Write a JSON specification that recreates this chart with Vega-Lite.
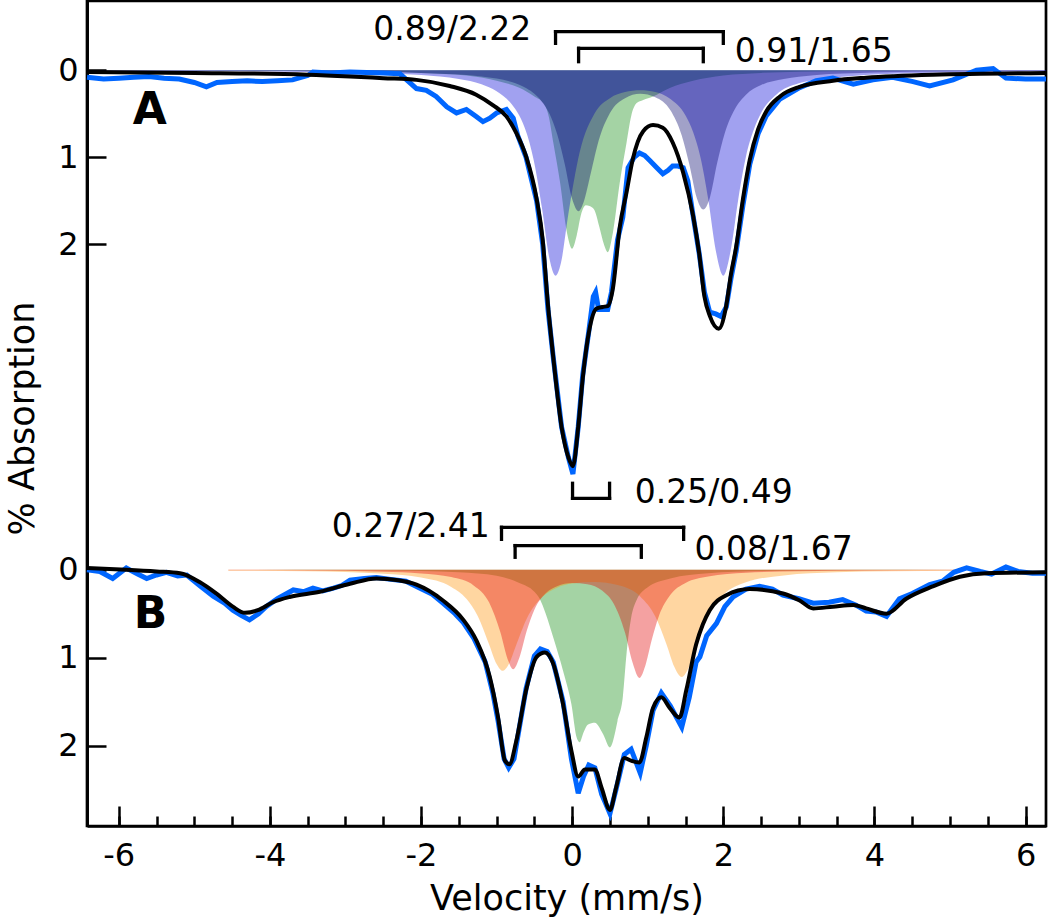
{
  "$schema": "https://vega.github.io/schema/vega-lite/v6.json",
  "width": 959,
  "height": 825,
  "autosize": {"type": "none"},
  "padding": {"left": 87, "top": 1, "right": 4, "bottom": 93},
  "config": {
    "view": {"stroke": "black", "strokeWidth": 2.7},
    "font": "DejaVu Sans",
    "axis": {"grid": false, "domainColor": "black", "tickColor": "black", "labelColor": "black", "titleColor": "black"}
  },
  "resolve": {"scale": {"y": "independent"}, "axis": {"x": "independent", "y": "independent"}},
  "layer": [
    {
      "encoding": {
        "x": {"field": "x", "type": "quantitative", "scale": {"domain": [-6.42, 6.27], "nice": false, "zero": false}, "axis": null},
        "y": {"field": "y", "type": "quantitative", "scale": {"domain": [-0.7966, 8.686], "reverse": true, "nice": false, "zero": false},
          "axis": {"orient": "left", "values": [0, 1, 2], "tickSize": -19, "tickWidth": 2.5, "domainWidth": 2.7, "labelFontSize": 32, "labelPadding": 28, "labelFont": "DejaVu Sans",
            "title": "% Absorption", "titleFontSize": 35, "titleFontWeight": "normal", "titleFont": "DejaVu Sans", "titleX": -65, "titleY": 417, "titleAngle": -90, "titleAlign": "center", "titleBaseline": "middle"}}
      },
      "layer": [
        {
          "data": {"values": [
            {"x":-6.42,"y":0},{"x":-3,"y":0.01},{"x":-2,"y":0.03},{"x":-1.4,"y":0.06},{"x":-1,"y":0.12},{"x":-0.7,"y":0.2},{"x":-0.5,"y":0.3},{"x":-0.38,"y":0.38},{"x":-0.31,"y":0.53},{"x":-0.25,"y":0.83},{"x":-0.16,"y":1.29},{"x":-0.07,"y":1.86},{"x":0,"y":2.05},{"x":0.06,"y":1.9},{"x":0.12,"y":1.65},{"x":0.18,"y":1.55},{"x":0.23,"y":1.56},{"x":0.29,"y":1.6},{"x":0.36,"y":1.8},{"x":0.42,"y":2.0},{"x":0.47,"y":2.09},{"x":0.54,"y":1.86},{"x":0.63,"y":1.29},{"x":0.72,"y":0.83},{"x":0.78,"y":0.53},{"x":0.85,"y":0.38},{"x":0.94,"y":0.34},{"x":1.07,"y":0.3},{"x":1.3,"y":0.2},{"x":1.6,"y":0.12},{"x":2,"y":0.06},{"x":2.5,"y":0.03},{"x":3.5,"y":0.01},{"x":6.27,"y":0}
          ]},
          "mark": {"type": "area", "color": "#088808", "opacity": 0.37, "interpolate": "monotone"},
          "encoding": {"y2": {"datum": 0}}
        },
        {
          "data": {"values": [
            {"x":-6.42,"y":0.006},{"x":-5,"y":0.01},{"x":-4,"y":0.014},{"x":-3,"y":0.025},{"x":-2.5,"y":0.035},{"x":-2,"y":0.055},{"x":-1.5,"y":0.1},{"x":-1.2,"y":0.16},{"x":-1,"y":0.24},{"x":-0.8,"y":0.39},{"x":-0.7,"y":0.52},{"x":-0.6,"y":0.73},{"x":-0.5,"y":1.07},{"x":-0.4,"y":1.58},{"x":-0.3,"y":2.17},{"x":-0.22,"y":2.36},{"x":-0.15,"y":2.22},{"x":-0.05,"y":1.65},{"x":0.1,"y":0.94},{"x":0.3,"y":0.49},{"x":0.5,"y":0.32},{"x":0.7,"y":0.25},{"x":0.9,"y":0.23},{"x":1.1,"y":0.25},{"x":1.3,"y":0.33},{"x":1.5,"y":0.52},{"x":1.6,"y":0.71},{"x":1.7,"y":1.01},{"x":1.8,"y":1.48},{"x":1.9,"y":2.07},{"x":2,"y":2.36},{"x":2.1,"y":2.06},{"x":2.2,"y":1.47},{"x":2.3,"y":0.99},{"x":2.4,"y":0.69},{"x":2.5,"y":0.49},{"x":2.7,"y":0.28},{"x":3,"y":0.15},{"x":3.5,"y":0.08},{"x":4,"y":0.047},{"x":5,"y":0.024},{"x":6.27,"y":0.014}
          ]},
          "mark": {"type": "area", "color": "#0000d6", "opacity": 0.37, "interpolate": "monotone"},
          "encoding": {"y2": {"datum": 0}}
        },
        {
          "data": {"values": [
            {"x":-6.42,"y":0.004},{"x":-4,"y":0.009},{"x":-3,"y":0.015},{"x":-2,"y":0.03},{"x":-1.5,"y":0.049},{"x":-1.2,"y":0.07},{"x":-1,"y":0.095},{"x":-0.8,"y":0.135},{"x":-0.6,"y":0.21},{"x":-0.5,"y":0.27},{"x":-0.4,"y":0.36},{"x":-0.3,"y":0.5},{"x":-0.2,"y":0.73},{"x":-0.1,"y":1.07},{"x":0,"y":1.48},{"x":0.085,"y":1.62},{"x":0.15,"y":1.52},{"x":0.25,"y":1.17},{"x":0.35,"y":0.81},{"x":0.5,"y":0.49},{"x":0.7,"y":0.32},{"x":0.9,"y":0.27},{"x":1.1,"y":0.31},{"x":1.3,"y":0.46},{"x":1.45,"y":0.75},{"x":1.55,"y":1.08},{"x":1.65,"y":1.47},{"x":1.735,"y":1.6},{"x":1.82,"y":1.47},{"x":1.92,"y":1.06},{"x":2.02,"y":0.72},{"x":2.15,"y":0.45},{"x":2.3,"y":0.28},{"x":2.5,"y":0.17},{"x":2.8,"y":0.1},{"x":3.2,"y":0.056},{"x":4,"y":0.025},{"x":5,"y":0.013},{"x":6.27,"y":0.008}
          ]},
          "mark": {"type": "area", "color": "#00006a", "opacity": 0.37, "interpolate": "monotone"},
          "encoding": {"y2": {"datum": 0}}
        },
        {
          "data": {"values": [
            {"x":-6.42,"y":0.08},{"x":-6.2,"y":0.1},{"x":-6,"y":0.09},{"x":-5.8,"y":0.08},{"x":-5.6,"y":0.07},{"x":-5.4,"y":0.09},{"x":-5.2,"y":0.1},{"x":-5,"y":0.14},{"x":-4.84,"y":0.19},{"x":-4.7,"y":0.14},{"x":-4.5,"y":0.13},{"x":-4.3,"y":0.12},{"x":-4.1,"y":0.13},{"x":-3.9,"y":0.12},{"x":-3.7,"y":0.11},{"x":-3.5,"y":0.06},{"x":-3.43,"y":0.02},{"x":-3.2,"y":0.03},{"x":-2.94,"y":0.02},{"x":-2.5,"y":0.03},{"x":-2.28,"y":0.04},{"x":-2.19,"y":0.11},{"x":-2.06,"y":0.21},{"x":-1.93,"y":0.23},{"x":-1.8,"y":0.3},{"x":-1.66,"y":0.42},{"x":-1.53,"y":0.49},{"x":-1.4,"y":0.45},{"x":-1.27,"y":0.53},{"x":-1.18,"y":0.59},{"x":-1.09,"y":0.55},{"x":-1,"y":0.49},{"x":-0.87,"y":0.45},{"x":-0.78,"y":0.55},{"x":-0.72,"y":0.75},{"x":-0.61,"y":1.0},{"x":-0.47,"y":1.5},{"x":-0.39,"y":2.0},{"x":-0.32,"y":2.75},{"x":-0.25,"y":3.3},{"x":-0.14,"y":4.1},{"x":-0.05,"y":4.45},{"x":0.01,"y":4.64},{"x":0.08,"y":4.1},{"x":0.14,"y":3.5},{"x":0.22,"y":3.0},{"x":0.28,"y":2.6},{"x":0.31,"y":2.55},{"x":0.35,"y":2.75},{"x":0.42,"y":2.75},{"x":0.47,"y":2.75},{"x":0.52,"y":2.55},{"x":0.6,"y":1.95},{"x":0.67,"y":1.69},{"x":0.74,"y":1.12},{"x":0.82,"y":1.0},{"x":0.89,"y":0.95},{"x":0.96,"y":0.98},{"x":1.03,"y":1.04},{"x":1.12,"y":1.12},{"x":1.2,"y":1.19},{"x":1.27,"y":1.15},{"x":1.33,"y":1.1},{"x":1.4,"y":1.1},{"x":1.47,"y":1.12},{"x":1.53,"y":1.27},{"x":1.6,"y":1.67},{"x":1.68,"y":2.1},{"x":1.75,"y":2.55},{"x":1.82,"y":2.78},{"x":1.9,"y":2.8},{"x":1.97,"y":2.83},{"x":2.04,"y":2.72},{"x":2.1,"y":2.4},{"x":2.17,"y":2.08},{"x":2.26,"y":1.55},{"x":2.35,"y":1.08},{"x":2.46,"y":0.73},{"x":2.57,"y":0.52},{"x":2.75,"y":0.33},{"x":3.01,"y":0.2},{"x":3.23,"y":0.12},{"x":3.45,"y":0.09},{"x":3.72,"y":0.16},{"x":3.98,"y":0.11},{"x":4.24,"y":0.08},{"x":4.51,"y":0.13},{"x":4.73,"y":0.18},{"x":5.04,"y":0.11},{"x":5.35,"y":0.0},{"x":5.57,"y":-0.02},{"x":5.74,"y":0.09},{"x":6,"y":0.1},{"x":6.27,"y":0.1}
          ]},
          "mark": {"type": "line", "color": "#0066ff", "strokeWidth": 5}
        },
        {
          "data": {"values": [
            {"x":-6.42,"y":0.02},{"x":-5,"y":0.03},{"x":-3.5,"y":0.05},{"x":-2.94,"y":0.07},{"x":-2.5,"y":0.09},{"x":-2.06,"y":0.11},{"x":-1.62,"y":0.18},{"x":-1.27,"y":0.28},{"x":-1.05,"y":0.4},{"x":-0.87,"y":0.53},{"x":-0.74,"y":0.72},{"x":-0.61,"y":0.99},{"x":-0.47,"y":1.48},{"x":-0.39,"y":1.95},{"x":-0.32,"y":2.7},{"x":-0.25,"y":3.3},{"x":-0.14,"y":4.1},{"x":-0.05,"y":4.45},{"x":0.01,"y":4.55},{"x":0.08,"y":4.1},{"x":0.14,"y":3.54},{"x":0.23,"y":2.97},{"x":0.32,"y":2.74},{"x":0.4,"y":2.72},{"x":0.47,"y":2.71},{"x":0.54,"y":2.5},{"x":0.63,"y":1.8},{"x":0.72,"y":1.4},{"x":0.8,"y":1.03},{"x":0.94,"y":0.7},{"x":1.07,"y":0.63},{"x":1.2,"y":0.66},{"x":1.33,"y":0.83},{"x":1.47,"y":1.18},{"x":1.6,"y":1.67},{"x":1.68,"y":2.1},{"x":1.75,"y":2.6},{"x":1.82,"y":2.82},{"x":1.94,"y":2.97},{"x":2.04,"y":2.7},{"x":2.1,"y":2.35},{"x":2.17,"y":2.03},{"x":2.26,"y":1.48},{"x":2.35,"y":1.03},{"x":2.46,"y":0.68},{"x":2.57,"y":0.47},{"x":2.75,"y":0.3},{"x":3.01,"y":0.19},{"x":3.45,"y":0.12},{"x":3.89,"y":0.085},{"x":4.77,"y":0.05},{"x":6.27,"y":0.03}
          ]},
          "mark": {"type": "line", "color": "black", "strokeWidth": 4, "interpolate": "monotone"}
        },
        {
          "data": {"values": [
            {"x":-0.22,"x2":2.0,"y":-0.444,"y2":-0.444},{"x":-0.22,"x2":-0.22,"y":-0.444,"y2":-0.31},{"x":2.0,"x2":2.0,"y":-0.444,"y2":-0.31},
            {"x":0.085,"x2":1.735,"y":-0.253,"y2":-0.253},{"x":0.085,"x2":0.085,"y":-0.253,"y2":-0.099},{"x":1.735,"x2":1.735,"y":-0.253,"y2":-0.099}
          ]},
          "mark": {"type": "rule", "color": "black", "strokeWidth": 3.3, "strokeCap": "square"},
          "encoding": {"x2": {"field": "x2"}, "y2": {"field": "y2"}}
        },
        {
          "data": {"values": [{"x":-0.54,"y":-0.463,"t":"0.89/2.22"}]},
          "mark": {"type": "text", "align": "right", "baseline": "middle", "fontSize": 33, "font": "DejaVu Sans", "color": "black"},
          "encoding": {"text": {"field": "t"}}
        },
        {
          "data": {"values": [{"x":2.15,"y":-0.214,"t":"0.91/1.65"}]},
          "mark": {"type": "text", "align": "left", "baseline": "middle", "fontSize": 33, "font": "DejaVu Sans", "color": "black"},
          "encoding": {"text": {"field": "t"}}
        },
        {
          "data": {"values": [{"x":-5.59,"y":0.468,"t":"A"}]},
          "mark": {"type": "text", "align": "center", "baseline": "middle", "fontSize": 44, "fontWeight": "bold", "font": "DejaVu Sans", "color": "black"},
          "encoding": {"text": {"field": "t"}}
        }
      ]
    },
    {
      "encoding": {
        "x": {"field": "x", "type": "quantitative", "scale": {"domain": [-6.42, 6.27], "nice": false, "zero": false},
          "axis": {"orient": "bottom", "values": [-6, -4, -2, 0, 2, 4, 6], "tickSize": -20, "tickWidth": 2.5, "domainWidth": 2.7, "labelFontSize": 32, "labelPadding": 34, "labelFont": "DejaVu Sans",
            "labelExpr": "datum.value < 0 ? '-' + abs(datum.value) : '' + datum.value",
            "title": "Velocity (mm/s)", "titleFontSize": 35, "titleFontWeight": "normal", "titleFont": "DejaVu Sans", "titleY": 72, "titleBaseline": "middle"}},
        "y": {"field": "y", "type": "quantitative", "scale": {"domain": [-6.4625, 2.9125], "reverse": true, "nice": false, "zero": false},
          "axis": {"orient": "left", "values": [0, 1, 2], "tickSize": -19, "tickWidth": 2.5, "domainWidth": 2.7, "labelFontSize": 32, "labelPadding": 28, "labelFont": "DejaVu Sans", "title": null}}
      },
      "layer": [
        {
          "data": {"values": [
            {"x":-4.55,"y":0},{"x":-3,"y":0.005},{"x":-2,"y":0.015},{"x":-1.5,"y":0.03},{"x":-1,"y":0.07},{"x":-0.7,"y":0.15},{"x":-0.5,"y":0.25},{"x":-0.43,"y":0.33},{"x":-0.35,"y":0.5},{"x":-0.25,"y":0.77},{"x":-0.12,"y":1.15},{"x":-0.01,"y":1.53},{"x":0.06,"y":1.91},{"x":0.1,"y":1.96},{"x":0.15,"y":1.85},{"x":0.21,"y":1.76},{"x":0.3,"y":1.74},{"x":0.41,"y":1.87},{"x":0.5,"y":2.02},{"x":0.54,"y":1.95},{"x":0.6,"y":1.72},{"x":0.67,"y":1.45},{"x":0.72,"y":0.95},{"x":0.78,"y":0.55},{"x":0.85,"y":0.35},{"x":1,"y":0.2},{"x":1.3,"y":0.1},{"x":1.8,"y":0.04},{"x":2.5,"y":0.015},{"x":3.5,"y":0.005},{"x":5.1,"y":0}
          ]},
          "mark": {"type": "area", "color": "#088808", "opacity": 0.37, "interpolate": "monotone"},
          "encoding": {"y2": {"datum": 0}}
        },
        {
          "data": {"values": [
            {"x":-4.55,"y":0.011},{"x":-3.5,"y":0.019},{"x":-2.5,"y":0.046},{"x":-2,"y":0.09},{"x":-1.6,"y":0.196},{"x":-1.4,"y":0.33},{"x":-1.25,"y":0.526},{"x":-1.1,"y":0.847},{"x":-1,"y":1.072},{"x":-0.92,"y":1.149},{"x":-0.85,"y":1.092},{"x":-0.75,"y":0.877},{"x":-0.6,"y":0.554},{"x":-0.4,"y":0.313},{"x":-0.2,"y":0.205},{"x":0,"y":0.158},{"x":0.3,"y":0.141},{"x":0.6,"y":0.175},{"x":0.9,"y":0.305},{"x":1.1,"y":0.532},{"x":1.25,"y":0.852},{"x":1.35,"y":1.1},{"x":1.45,"y":1.218},{"x":1.55,"y":1.097},{"x":1.65,"y":0.847},{"x":1.8,"y":0.523},{"x":2,"y":0.288},{"x":2.3,"y":0.144},{"x":2.8,"y":0.065},{"x":3.5,"y":0.03},{"x":4.2,"y":0.018},{"x":5.1,"y":0.011}
          ]},
          "mark": {"type": "area", "color": "#ff9000", "opacity": 0.37, "interpolate": "monotone"},
          "encoding": {"y2": {"datum": 0}}
        },
        {
          "data": {"values": [
            {"x":-4.55,"y":0.006},{"x":-3.5,"y":0.01},{"x":-2.5,"y":0.023},{"x":-2,"y":0.042},{"x":-1.6,"y":0.084},{"x":-1.3,"y":0.181},{"x":-1.1,"y":0.371},{"x":-0.95,"y":0.712},{"x":-0.85,"y":1.026},{"x":-0.78,"y":1.131},{"x":-0.7,"y":1.003},{"x":-0.6,"y":0.691},{"x":-0.5,"y":0.454},{"x":-0.35,"y":0.267},{"x":-0.2,"y":0.187},{"x":0,"y":0.152},{"x":0.2,"y":0.165},{"x":0.4,"y":0.24},{"x":0.55,"y":0.387},{"x":0.7,"y":0.717},{"x":0.8,"y":1.058},{"x":0.89,"y":1.23},{"x":0.97,"y":1.086},{"x":1.05,"y":0.808},{"x":1.15,"y":0.521},{"x":1.3,"y":0.285},{"x":1.5,"y":0.151},{"x":1.8,"y":0.077},{"x":2.3,"y":0.036},{"x":3,"y":0.018},{"x":4,"y":0.009},{"x":5.1,"y":0.006}
          ]},
          "mark": {"type": "area", "color": "#e00000", "opacity": 0.37, "interpolate": "monotone"},
          "encoding": {"y2": {"datum": 0}}
        },
        {
          "data": {"values": [
            {"x":-6.42,"y":0.0},{"x":-6.25,"y":0.02},{"x":-6.08,"y":0.1},{"x":-5.9,"y":-0.02},{"x":-5.75,"y":0.05},{"x":-5.63,"y":0.1},{"x":-5.5,"y":0.06},{"x":-5.37,"y":0.03},{"x":-5.22,"y":0.07},{"x":-5.1,"y":0.06},{"x":-4.93,"y":0.18},{"x":-4.75,"y":0.3},{"x":-4.6,"y":0.38},{"x":-4.49,"y":0.46},{"x":-4.38,"y":0.52},{"x":-4.27,"y":0.57},{"x":-4.15,"y":0.5},{"x":-4.05,"y":0.42},{"x":-3.9,"y":0.33},{"x":-3.69,"y":0.23},{"x":-3.55,"y":0.25},{"x":-3.43,"y":0.21},{"x":-3.3,"y":0.24},{"x":-3.16,"y":0.21},{"x":-3.05,"y":0.18},{"x":-2.94,"y":0.12},{"x":-2.75,"y":0.1},{"x":-2.59,"y":0.09},{"x":-2.4,"y":0.11},{"x":-2.2,"y":0.13},{"x":-2.06,"y":0.19},{"x":-1.85,"y":0.28},{"x":-1.71,"y":0.38},{"x":-1.55,"y":0.5},{"x":-1.44,"y":0.6},{"x":-1.3,"y":0.78},{"x":-1.15,"y":1.05},{"x":-1.05,"y":1.4},{"x":-0.98,"y":1.72},{"x":-0.9,"y":2.15},{"x":-0.84,"y":2.25},{"x":-0.77,"y":2.15},{"x":-0.72,"y":1.9},{"x":-0.61,"y":1.35},{"x":-0.5,"y":0.98},{"x":-0.42,"y":0.9},{"x":-0.33,"y":0.93},{"x":-0.25,"y":1.05},{"x":-0.12,"y":1.5},{"x":-0.01,"y":2.15},{"x":0.08,"y":2.54},{"x":0.15,"y":2.35},{"x":0.22,"y":2.22},{"x":0.3,"y":2.25},{"x":0.39,"y":2.55},{"x":0.5,"y":2.77},{"x":0.58,"y":2.5},{"x":0.69,"y":2.1},{"x":0.78,"y":2.04},{"x":0.9,"y":2.31},{"x":0.98,"y":2.0},{"x":1.07,"y":1.6},{"x":1.18,"y":1.4},{"x":1.3,"y":1.55},{"x":1.45,"y":1.79},{"x":1.55,"y":1.45},{"x":1.64,"y":1.05},{"x":1.69,"y":0.99},{"x":1.78,"y":0.75},{"x":1.91,"y":0.61},{"x":2.02,"y":0.42},{"x":2.13,"y":0.31},{"x":2.3,"y":0.22},{"x":2.48,"y":0.19},{"x":2.65,"y":0.22},{"x":2.79,"y":0.29},{"x":3,"y":0.33},{"x":3.19,"y":0.38},{"x":3.4,"y":0.37},{"x":3.58,"y":0.34},{"x":3.75,"y":0.4},{"x":3.89,"y":0.47},{"x":4.02,"y":0.48},{"x":4.16,"y":0.53},{"x":4.33,"y":0.33},{"x":4.5,"y":0.27},{"x":4.73,"y":0.17},{"x":4.9,"y":0.13},{"x":5.05,"y":0.03},{"x":5.22,"y":-0.02},{"x":5.4,"y":0.02},{"x":5.55,"y":0.05},{"x":5.74,"y":-0.03},{"x":5.9,"y":0.02},{"x":6.09,"y":0.04},{"x":6.27,"y":0.04}
          ]},
          "mark": {"type": "line", "color": "#0066ff", "strokeWidth": 5}
        },
        {
          "data": {"values": [
            {"x":-6.42,"y":-0.02},{"x":-5.9,"y":0.0},{"x":-5.5,"y":0.02},{"x":-5.19,"y":0.04},{"x":-4.93,"y":0.14},{"x":-4.71,"y":0.27},{"x":-4.49,"y":0.42},{"x":-4.33,"y":0.49},{"x":-4.16,"y":0.46},{"x":-3.96,"y":0.37},{"x":-3.74,"y":0.31},{"x":-3.34,"y":0.25},{"x":-2.94,"y":0.16},{"x":-2.59,"y":0.1},{"x":-2.3,"y":0.12},{"x":-2.06,"y":0.17},{"x":-1.71,"y":0.35},{"x":-1.44,"y":0.57},{"x":-1.27,"y":0.8},{"x":-1.09,"y":1.22},{"x":-0.98,"y":1.68},{"x":-0.89,"y":2.17},{"x":-0.83,"y":2.21},{"x":-0.74,"y":1.95},{"x":-0.61,"y":1.37},{"x":-0.47,"y":0.99},{"x":-0.36,"y":0.94},{"x":-0.25,"y":1.07},{"x":-0.12,"y":1.53},{"x":-0.01,"y":2.06},{"x":0.08,"y":2.35},{"x":0.17,"y":2.27},{"x":0.3,"y":2.27},{"x":0.39,"y":2.48},{"x":0.5,"y":2.73},{"x":0.58,"y":2.48},{"x":0.69,"y":2.14},{"x":0.78,"y":2.17},{"x":0.89,"y":2.19},{"x":0.98,"y":1.91},{"x":1.07,"y":1.57},{"x":1.18,"y":1.45},{"x":1.29,"y":1.57},{"x":1.42,"y":1.68},{"x":1.51,"y":1.37},{"x":1.64,"y":0.85},{"x":1.73,"y":0.62},{"x":1.82,"y":0.46},{"x":2.04,"y":0.29},{"x":2.35,"y":0.22},{"x":2.79,"y":0.27},{"x":3.01,"y":0.35},{"x":3.19,"y":0.44},{"x":3.45,"y":0.42},{"x":3.72,"y":0.4},{"x":3.89,"y":0.44},{"x":4.16,"y":0.5},{"x":4.42,"y":0.33},{"x":4.77,"y":0.19},{"x":5.13,"y":0.08},{"x":5.48,"y":0.04},{"x":6.27,"y":0.03}
          ]},
          "mark": {"type": "line", "color": "black", "strokeWidth": 4, "interpolate": "monotone"}
        },
        {
          "data": {"values": [
            {"x":0.005,"x2":0.495,"y":-0.811,"y2":-0.811},{"x":0.005,"x2":0.005,"y":-0.811,"y2":-0.982},{"x":0.495,"x2":0.495,"y":-0.811,"y2":-0.982},
            {"x":-0.935,"x2":1.475,"y":-0.482,"y2":-0.482},{"x":-0.935,"x2":-0.935,"y":-0.482,"y2":-0.345},{"x":1.475,"x2":1.475,"y":-0.482,"y2":-0.345},
            {"x":-0.755,"x2":0.915,"y":-0.274,"y2":-0.274},{"x":-0.755,"x2":-0.755,"y":-0.274,"y2":-0.141},{"x":0.915,"x2":0.915,"y":-0.274,"y2":-0.141}
          ]},
          "mark": {"type": "rule", "color": "black", "strokeWidth": 3.3, "strokeCap": "square"},
          "encoding": {"x2": {"field": "x2"}, "y2": {"field": "y2"}}
        },
        {
          "data": {"values": [{"x":0.827,"y":-0.872,"t":"0.25/0.49"},{"x":1.62,"y":-0.224,"t":"0.08/1.67"}]},
          "mark": {"type": "text", "align": "left", "baseline": "middle", "fontSize": 33, "font": "DejaVu Sans", "color": "black"},
          "encoding": {"text": {"field": "t"}}
        },
        {
          "data": {"values": [{"x":-1.09,"y":-0.489,"t":"0.27/2.41"}]},
          "mark": {"type": "text", "align": "right", "baseline": "middle", "fontSize": 33, "font": "DejaVu Sans", "color": "black"},
          "encoding": {"text": {"field": "t"}}
        },
        {
          "data": {"values": [{"x":-5.58,"y":0.515,"t":"B"}]},
          "mark": {"type": "text", "align": "center", "baseline": "middle", "fontSize": 44, "fontWeight": "bold", "font": "DejaVu Sans", "color": "black"},
          "encoding": {"text": {"field": "t"}}
        }
      ]
    },
    {
      "data": {"values": [{"x": 0}]},
      "mark": {"type": "point", "opacity": 0},
      "encoding": {
        "x": {"field": "x", "type": "quantitative", "scale": {"domain": [-6.42, 6.27], "nice": false, "zero": false},
          "axis": {"orient": "bottom", "values": [-6, -5.5, -5, -4.5, -4, -3.5, -3, -2.5, -2, -1.5, -1, -0.5, 0, 0.5, 1, 1.5, 2, 2.5, 3, 3.5, 4, 4.5, 5, 5.5, 6], "tickSize": -10, "tickWidth": 2.5, "labels": false, "domain": false, "title": null}}
      }
    }
  ]
}
